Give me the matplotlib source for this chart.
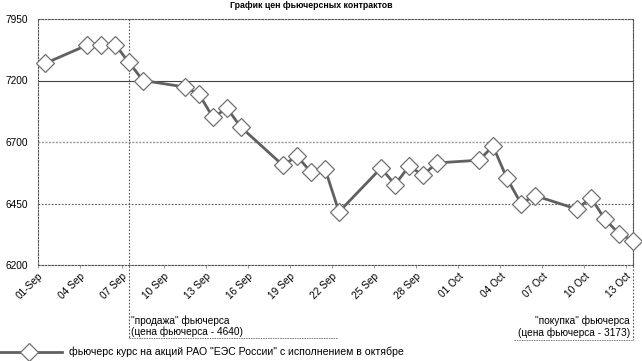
import numpy as np
import matplotlib
matplotlib.use("Agg")
import matplotlib.pyplot as plt
import matplotlib.dates as mdates

plt.rcParams['font.family'] = ['Liberation Sans', 'DejaVu Sans']

title = "График цен фьючерсных контрактов"
series_name = 'фьючерс курс на акций РАО "ЕЭС России" с исполнением в октябре'

dates = ["2000-09-01", "2000-09-04", "2000-09-05", "2000-09-06", "2000-09-07", "2000-09-08",
         "2000-09-11", "2000-09-12", "2000-09-13", "2000-09-14", "2000-09-15",
         "2000-09-18", "2000-09-19", "2000-09-20", "2000-09-21", "2000-09-22",
         "2000-09-25", "2000-09-26", "2000-09-27", "2000-09-28", "2000-09-29",
         "2000-10-02", "2000-10-03", "2000-10-04", "2000-10-05", "2000-10-06",
         "2000-10-09", "2000-10-10", "2000-10-11", "2000-10-12", "2000-10-13"]
prices = [7408, 7631, 7631, 7639, 7420, 7200,
          7147, 7088, 6900, 6974, 6820,
          6605, 6643, 6577, 6591, 6416,
          6594, 6527, 6601, 6566, 6615,
          6626, 6683, 6552, 6450, 6482,
          6427, 6474, 6385, 6328, 6299]

y_levels = [6200, 6450, 6700, 7200, 7950]
tick_dates = ["2000-09-01", "2000-09-04", "2000-09-07", "2000-09-10", "2000-09-13",
              "2000-09-16", "2000-09-19", "2000-09-22", "2000-09-25", "2000-09-28",
              "2000-10-01", "2000-10-04", "2000-10-07", "2000-10-10", "2000-10-13"]
tick_labels = ["01-Sep", "04 Sep", "07 Sep", "10 Sep", "13 Sep", "16 Sep", "19 Sep",
               "22 Sep", "25 Sep", "28 Sep", "01 Oct", "04 Oct", "07 Oct", "10 Oct", "13 Oct"]
sell_date = "2000-09-07"
sell_text = ['"продажа" фьючерса', '(цена фьючерса - 4640)']
buy_text = ['"покупка" фьючерса', '(цена фьючерса - 3173)']

x = mdates.date2num(np.array(dates, dtype="datetime64[D]"))
xt = mdates.date2num(np.array(tick_dates, dtype="datetime64[D]"))
idx = np.arange(len(y_levels), dtype=float)

def fwd(v):
    return np.interp(v, y_levels, idx)

def inv(v):
    return np.interp(v, idx, y_levels)

W, H = 642, 361
fs = 7.3
fig = plt.figure(figsize=(W / 100, H / 100), dpi=100)
L, R, T, B = 38, 633, 19, 265
ax = fig.add_axes([L / W, 1 - B / H, (R - L) / W, (B - T) / H])

ax.set_yscale('function', functions=(fwd, inv))
ax.set_ylim(6200, 7950)
ax.set_xlim(x[0] - 0.5, x[-1])

grid_c = '#555555'
for lv in y_levels:
    if lv == 7200:
        ax.axhline(lv, color='#444444', lw=0.8, ls='-', zorder=1)
    elif lv == 6700:
        ax.axhline(lv, color='#999999', lw=1.0, ls=(0, (1.5, 1.0)), zorder=1)
    else:
        ax.axhline(lv, color=grid_c, lw=0.8, ls=(0, (1.5, 1.5)), zorder=1)

line, = ax.plot(x, prices, color='#606060', lw=2.0, marker='D', markersize=9.5,
                markerfacecolor='white', markeredgecolor='#707070', markeredgewidth=0.9,
                clip_on=False, zorder=3, label=series_name)

ax.set_yticks(y_levels)
ax.set_yticklabels([str(v) for v in y_levels], fontsize=fs)
ax.tick_params(axis='y', length=0, pad=7)
ax.set_xticks(xt - 0.5)
ax.set_xticklabels(tick_labels, fontsize=fs, rotation=45, ha='right', va='top',
                   rotation_mode='anchor')
ax.tick_params(axis='x', length=2.5, width=0.6, color='#888888', pad=2)

for s in ax.spines.values():
    s.set_linestyle((0, (1.5, 1.5)))
    s.set_color(grid_c)
    s.set_linewidth(0.8)

xs = mdates.date2num(np.datetime64(sell_date))
def ypix(p):
    return (B - p) / (B - T)
ax.plot([xs, xs], [1.0, ypix(338)], transform=ax.get_xaxis_transform(),
        color=grid_c, lw=0.8, ls=(0, (1.5, 1.5)), clip_on=False, zorder=2)
ax.plot([xs, mdates.date2num(np.datetime64("2000-09-22")) - 0.1], [ypix(338), ypix(338)],
        transform=ax.get_xaxis_transform(), color='#777777', lw=0.7, ls=(0, (1.5, 1.0)),
        clip_on=False)
ax.plot([x[-1], x[-1]], [1.0, ypix(340)], transform=ax.get_xaxis_transform(),
        color=grid_c, lw=0.8, ls=(0, (1.5, 1.5)), clip_on=False, zorder=2)
ax.plot([mdates.date2num(np.datetime64("2000-10-04")) + 0.5, x[-1]], [ypix(340), ypix(340)],
        transform=ax.get_xaxis_transform(), color='#777777', lw=0.7, ls=(0, (1.5, 1.0)),
        clip_on=False)

fig.text(131 / W, 1 - 321 / H, sell_text[0], fontsize=fs, ha='left', va='center')
fig.text(131 / W, 1 - 332 / H, sell_text[1], fontsize=fs, ha='left', va='center')
fig.text(630 / W, 1 - 321 / H, buy_text[0], fontsize=fs, ha='right', va='center')
fig.text(630 / W, 1 - 333 / H, buy_text[1], fontsize=fs, ha='right', va='center')

fig.text(311 / W, 1 - 6 / H, title, fontsize=6.3, fontweight='bold', ha='center', va='center')

fig.legend(handles=[line], loc='center left', bbox_to_anchor=(-0.008, 1 - 352 / H),
           frameon=False, fontsize=7.6, handlelength=6.4, handletextpad=0.6,
           borderaxespad=0, borderpad=0)

fig.savefig("out.png", dpi=100)
